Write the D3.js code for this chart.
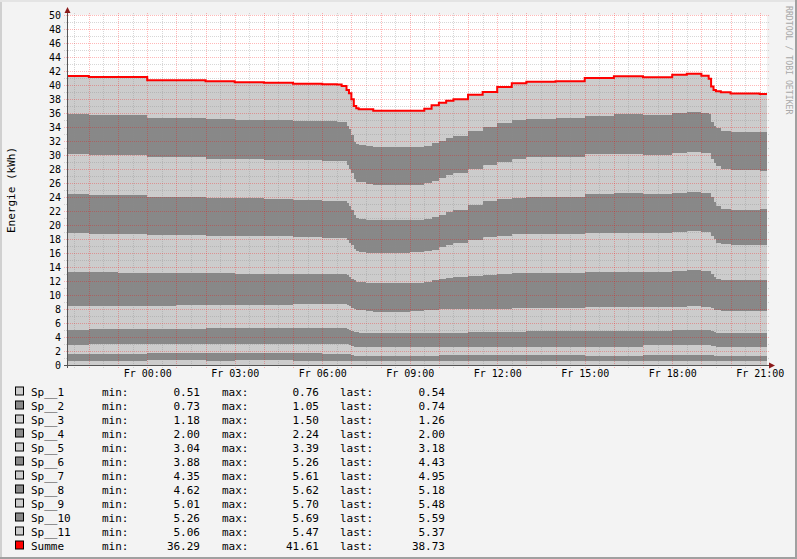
<!DOCTYPE html>
<html>
<head>
<meta charset="utf-8">
<script src="https://cdn.jsdelivr.net/npm/d3@7"></script>
<style>
  html, body { margin: 0; padding: 0; background: #f3f3f3; }
  svg text { font-family: "DejaVu Sans Mono", monospace; fill: #000; }
</style>
</head>
<body>
<svg id="chart" width="797" height="559"></svg>
<script>
"use strict";

// sample times (Thu evening -> Fri evening)
const stamps = [
  "2024-01-04 21:15", "2024-01-04 22:00", "2024-01-04 23:00", "2024-01-05 00:00", "2024-01-05 01:00",
  "2024-01-05 02:00", "2024-01-05 03:00", "2024-01-05 04:00", "2024-01-05 05:00", "2024-01-05 06:00",
  "2024-01-05 06:30", "2024-01-05 06:40", "2024-01-05 06:50", "2024-01-05 06:55", "2024-01-05 07:00",
  "2024-01-05 07:05", "2024-01-05 07:10", "2024-01-05 07:15", "2024-01-05 07:30", "2024-01-05 07:45",
  "2024-01-05 08:00", "2024-01-05 09:00", "2024-01-05 09:30", "2024-01-05 09:45", "2024-01-05 10:00",
  "2024-01-05 10:15", "2024-01-05 10:30", "2024-01-05 11:00", "2024-01-05 11:30", "2024-01-05 12:00",
  "2024-01-05 12:30", "2024-01-05 13:00", "2024-01-05 14:00", "2024-01-05 15:00", "2024-01-05 16:00",
  "2024-01-05 17:00", "2024-01-05 18:00", "2024-01-05 18:30", "2024-01-05 19:00", "2024-01-05 19:15",
  "2024-01-05 19:20", "2024-01-05 19:25", "2024-01-05 19:30", "2024-01-05 19:40", "2024-01-05 20:00",
  "2024-01-05 21:00", "2024-01-05 21:15"
];

const sp1 = [0.62,0.62,0.62,0.71,0.71,0.60,0.71,0.71,0.60,0.58,
  0.57,0.57,0.57,0.56,0.55,0.52,0.52,0.52,0.52,0.52,
  0.52,0.52,0.53,0.53,0.53,0.53,0.53,0.53,0.53,0.53,
  0.53,0.53,0.53,0.53,0.53,0.53,0.53,0.53,0.53,0.53,
  0.53,0.53,0.53,0.53,0.54,0.54,0.54];
const sp2 = [1.00,1.00,1.00,1.00,1.00,1.05,1.00,1.00,1.05,1.05,
  1.05,1.05,1.05,1.04,0.90,0.80,0.77,0.77,0.77,0.77,
  0.77,0.77,0.81,0.81,0.85,0.85,0.85,0.90,0.90,0.90,
  0.90,0.90,0.90,0.76,0.79,0.90,0.90,0.92,0.90,0.90,
  0.85,0.80,0.77,0.75,0.74,0.74,0.74];
const sp3 = [1.24,1.33,1.33,1.24,1.24,1.35,1.30,1.33,1.40,1.42,
  1.43,1.43,1.40,1.30,1.30,1.30,1.29,1.26,1.23,1.23,
  1.23,1.23,1.18,1.18,1.18,1.18,1.18,1.18,1.18,1.18,
  1.18,1.18,1.19,1.33,1.30,1.43,1.43,1.43,1.43,1.43,
  1.37,1.32,1.26,1.26,1.26,1.26,1.26];
const sp4 = [2.20,2.15,2.24,2.24,2.24,2.22,2.22,2.22,2.24,2.24,
  2.24,2.24,2.18,2.15,2.15,2.14,2.07,2.05,2.03,2.00,
  2.00,2.00,2.00,2.00,2.00,2.00,2.00,2.04,2.15,2.15,
  2.15,2.19,2.24,2.24,2.24,2.00,2.14,2.16,2.14,2.14,
  2.10,2.05,2.04,2.01,2.00,2.00,2.00];
const sp5 = [3.38,3.38,3.29,3.26,3.33,3.30,3.29,3.29,3.38,3.38,
  3.38,3.38,3.35,3.35,3.30,3.29,3.25,3.20,3.15,3.10,
  3.10,3.18,3.28,3.36,3.39,3.39,3.39,3.30,3.22,3.26,
  3.32,3.30,3.24,3.38,3.38,3.38,3.33,3.34,3.33,3.33,
  3.25,3.20,3.20,3.15,3.11,3.18,3.18];
const sp6 = [4.84,4.77,4.71,4.65,4.58,4.58,4.48,4.45,4.28,4.33,
  4.33,4.33,4.25,4.15,4.10,4.05,4.00,4.00,3.97,4.05,
  4.05,4.05,4.10,4.27,4.40,4.55,4.65,4.77,4.90,4.98,
  5.02,5.05,5.00,5.06,5.09,5.09,5.12,5.18,5.15,5.12,
  4.90,4.72,4.55,4.44,4.45,4.43,4.43];
const sp7 = [5.57,5.51,5.57,5.42,5.42,5.33,5.43,5.43,5.34,5.15,
  5.10,5.10,5.05,4.90,4.84,4.50,4.35,4.36,4.35,4.35,
  4.35,4.35,4.38,4.35,4.50,4.70,4.85,5.18,5.37,5.45,
  5.60,5.60,5.61,5.60,5.57,5.57,5.60,5.60,5.57,5.55,
  5.50,5.38,5.10,5.11,5.04,4.95,4.95];
const sp8 = [5.57,5.53,5.53,5.53,5.53,5.47,5.47,5.33,5.28,5.35,
  5.38,5.38,5.25,5.25,5.06,4.90,4.75,4.64,4.63,4.63,
  4.63,4.62,4.62,4.62,4.65,4.65,4.70,4.90,5.15,5.25,
  5.20,5.30,5.34,5.48,5.62,5.60,5.57,5.62,5.57,5.60,
  5.50,5.30,5.30,5.10,5.06,5.18,5.18];
const sp9 = [5.69,5.68,5.68,5.68,5.62,5.58,5.58,5.57,5.67,5.70,
  5.70,5.70,5.50,5.30,5.30,5.10,5.20,5.30,5.25,5.06,
  5.06,5.01,5.05,5.13,5.25,5.25,5.23,5.20,5.15,5.35,
  5.55,5.65,5.69,5.70,5.62,5.50,5.68,5.70,5.70,5.70,
  5.40,5.50,5.65,5.65,5.66,5.48,5.48];
const sp10 = [5.70,5.68,5.68,5.62,5.57,5.66,5.52,5.62,5.61,5.60,
  5.60,5.57,5.60,5.70,5.30,5.30,5.35,5.30,5.35,5.44,
  5.39,5.37,5.35,5.40,5.30,5.28,5.32,5.40,5.39,5.50,
  5.50,5.40,5.50,5.52,5.67,5.69,5.69,5.66,5.63,5.55,
  5.30,5.40,5.45,5.48,5.47,5.59,5.59];
const sp11 = [5.48,5.49,5.49,5.32,5.43,5.38,5.38,5.38,5.34,5.30,
  5.30,5.11,5.09,5.11,5.15,5.10,5.12,5.12,5.27,5.18,
  5.23,5.23,5.30,5.45,5.43,5.38,5.25,5.20,5.06,5.15,
  5.29,5.35,5.31,5.40,5.44,5.41,5.46,5.47,5.38,5.06,
  5.10,5.10,5.25,5.47,5.47,5.37,5.37];

const seriesNames = ["Sp__1", "Sp__2", "Sp__3", "Sp__4", "Sp__5", "Sp__6",
                     "Sp__7", "Sp__8", "Sp__9", "Sp__10", "Sp__11"];
const seriesValues = [sp1, sp2, sp3, sp4, sp5, sp6, sp7, sp8, sp9, sp10, sp11];

// legend figures as printed under the graph (last row = Summe)
const legendNames = seriesNames.concat(["Summe"]);
const legendMin  = [0.51, 0.73, 1.18, 2.00, 3.04, 3.88, 4.35, 4.62, 5.01, 5.26, 5.06, 36.29];
const legendMax  = [0.76, 1.05, 1.50, 2.24, 3.39, 5.26, 5.61, 5.62, 5.70, 5.69, 5.47, 41.61];
const legendLast = [0.54, 0.74, 1.26, 2.00, 3.18, 4.43, 4.95, 5.18, 5.48, 5.59, 5.37, 38.73];

const yTickValues = d3.range(0, 51, 2);

let W = 797, H = 559;
let plot = {left: 67, right: 767, top: 15, bottom: 365};

let parse = d3.timeParse("%Y-%m-%d %H:%M");
let dates = stamps.map(parse);

let rows = dates.map((dt, i) => {
  let r = {date: dt};
  seriesNames.forEach((n, k) => { r[n] = seriesValues[k][i]; });
  return r;
});

let stacked = d3.stack().keys(seriesNames)(rows);

let x = d3.scaleTime()
  .domain([dates[0], dates[dates.length - 1]])
  .range([plot.left, plot.right]);
let y = d3.scaleLinear()
  .domain([0, 50])
  .range([plot.bottom, plot.top]);

let de = d3.timeFormatLocale({
  dateTime: "%A, %e. %B %Y, %X",
  date: "%d.%m.%Y",
  time: "%H:%M:%S",
  periods: ["AM", "PM"],
  days: ["Sonntag", "Montag", "Dienstag", "Mittwoch", "Donnerstag", "Freitag", "Samstag"],
  shortDays: ["So", "Mo", "Di", "Mi", "Do", "Fr", "Sa"],
  months: ["Januar", "Februar", "März", "April", "Mai", "Juni", "Juli", "August", "September", "Oktober", "November", "Dezember"],
  shortMonths: ["Jan", "Feb", "Mär", "Apr", "Mai", "Jun", "Jul", "Aug", "Sep", "Okt", "Nov", "Dez"]
});
let fmtTick = de.format("%a %H:%M");

let svg = d3.select("#chart");

// background + 3d frame
svg.append("rect").attr("width", W).attr("height", H).attr("fill", "#f3f3f3");
svg.append("rect").attr("x", 0).attr("y", 0).attr("width", 2).attr("height", H).attr("fill", "#d0d0d0");
svg.append("rect").attr("x", 0).attr("y", 0).attr("width", W).attr("height", 2).attr("fill", "#e4e4e4");
svg.append("rect").attr("x", W - 2).attr("y", 0).attr("width", 2).attr("height", H).attr("fill", "#a0a0a0");
svg.append("rect").attr("x", 0).attr("y", H - 2).attr("width", W).attr("height", 2).attr("fill", "#a0a0a0");

// canvas
svg.append("rect")
  .attr("x", plot.left).attr("y", plot.top)
  .attr("width", plot.right - plot.left).attr("height", plot.bottom - plot.top)
  .attr("fill", "#ffffff");

// stacked areas, drawn top layer first from the baseline to avoid seams
let areaGen = d3.area()
  .curve(d3.curveStepAfter)
  .x(d => x(d.data.date))
  .y0(y(0))
  .y1(d => y(d[1]));

svg.append("g").attr("class", "areas")
  .selectAll("path")
  .data(stacked.slice().reverse())
  .join("path")
    .attr("d", areaGen)
    .attr("fill", s => (s.index % 2 === 0 ? "#cccccc" : "#888888"))
    .attr("shape-rendering", "crispEdges");

// grid (on top of the areas, like rrdtool)
let minorCol = "rgba(140,140,140,0.35)";
let majorCol = "rgba(255,0,0,0.28)";
let gridG = svg.append("g").attr("class", "grid").attr("shape-rendering", "crispEdges");
let halfHours = x.ticks(d3.timeMinute.every(30));
halfHours.forEach(t => {
  let major = t.getMinutes() === 0;
  gridG.append("line")
    .attr("x1", Math.round(x(t)) + 0.5).attr("x2", Math.round(x(t)) + 0.5)
    .attr("y1", plot.top - 2).attr("y2", plot.bottom + 3)
    .attr("stroke", major ? majorCol : minorCol)
    .attr("stroke-dasharray", "1,1");
});
d3.range(1, 51).forEach(v => {
  let major = v % 2 === 0;
  gridG.append("line")
    .attr("x1", plot.left - 3).attr("x2", plot.right + 3)
    .attr("y1", Math.round(y(v)) + 0.5).attr("y2", Math.round(y(v)) + 0.5)
    .attr("stroke", major ? majorCol : minorCol)
    .attr("stroke-dasharray", "1,1");
});

// Summe line
let lineGen = d3.line()
  .curve(d3.curveStepAfter)
  .x(d => x(d.data.date))
  .y(d => y(d[1]));
svg.append("path")
  .datum(stacked[stacked.length - 1])
  .attr("d", lineGen)
  .attr("fill", "none")
  .attr("stroke", "#ff0000")
  .attr("stroke-width", 2);

// axis lines + arrows
svg.append("line")
  .attr("x1", plot.left + 0.5).attr("x2", plot.left + 0.5)
  .attr("y1", plot.bottom + 3).attr("y2", plot.top - 6)
  .attr("stroke", "#555").attr("stroke-width", 1);
svg.append("line")
  .attr("x1", plot.left - 3).attr("x2", plot.right + 6)
  .attr("y1", plot.bottom + 0.5).attr("y2", plot.bottom + 0.5)
  .attr("stroke", "#555").attr("stroke-width", 1);
svg.append("path")
  .attr("d", `M${plot.left - 2.5},${plot.top - 2} L${plot.left + 0.5},${plot.top - 8} L${plot.left + 3.5},${plot.top - 2} Z`)
  .attr("fill", "#8b1a1a");
svg.append("path")
  .attr("d", `M${plot.right + 2},${plot.bottom - 2.5} L${plot.right + 8},${plot.bottom + 0.5} L${plot.right + 2},${plot.bottom + 3.5} Z`)
  .attr("fill", "#8b1a1a");

// y labels
let yAxis = svg.append("g")
  .attr("transform", `translate(${plot.left},0)`)
  .call(d3.axisLeft(y).tickValues(yTickValues).tickSize(0).tickPadding(6));
yAxis.select(".domain").remove();
yAxis.selectAll("text")
  .attr("font-size", 10)
  .style("font-family", "'DejaVu Sans Mono', monospace");

// x labels
let xAxis = svg.append("g")
  .attr("transform", `translate(0,${plot.bottom})`)
  .call(d3.axisBottom(x).ticks(d3.timeHour.every(3)).tickFormat(fmtTick).tickSize(0).tickPadding(5));
xAxis.select(".domain").remove();
xAxis.selectAll("text")
  .attr("font-size", 10)
  .style("font-family", "'DejaVu Sans Mono', monospace");

// y title
svg.append("text")
  .attr("transform", `translate(14.5,${(plot.top + plot.bottom) / 2}) rotate(-90)`)
  .attr("text-anchor", "middle")
  .attr("font-size", 11)
  .text("Energie (kWh)");

// watermark
svg.append("text")
  .attr("transform", "translate(786,6) rotate(90)")
  .attr("font-size", 8.2)
  .style("fill", "#a8a8a8")
  .text("RRDTOOL / TOBI OETIKER");

// legend
let legend = svg.append("g").attr("class", "legend");
legendNames.forEach((name, i) => {
  let base = 395.5 + 14 * i;
  let g = legend.append("g");
  let fill = i === 11 ? "#ff0000" : (i % 2 === 0 ? "#cccccc" : "#888888");
  g.append("rect")
    .attr("x", 15.5).attr("y", base - 8.5)
    .attr("width", 8).attr("height", 8)
    .attr("fill", fill).attr("stroke", "#000").attr("stroke-width", 1);
  let cols = [
    {x: 31, t: name, a: "start"},
    {x: 102, t: "min:", a: "start"},
    {x: 200, t: legendMin[i].toFixed(2), a: "end"},
    {x: 222, t: "max:", a: "start"},
    {x: 319, t: legendMax[i].toFixed(2), a: "end"},
    {x: 340, t: "last:", a: "start"},
    {x: 445, t: legendLast[i].toFixed(2), a: "end"},
  ];
  cols.forEach(c => {
    g.append("text")
      .attr("x", c.x).attr("y", base)
      .attr("text-anchor", c.a)
      .attr("font-size", 11)
      .text(c.t);
  });
});
</script>
</body>
</html>
